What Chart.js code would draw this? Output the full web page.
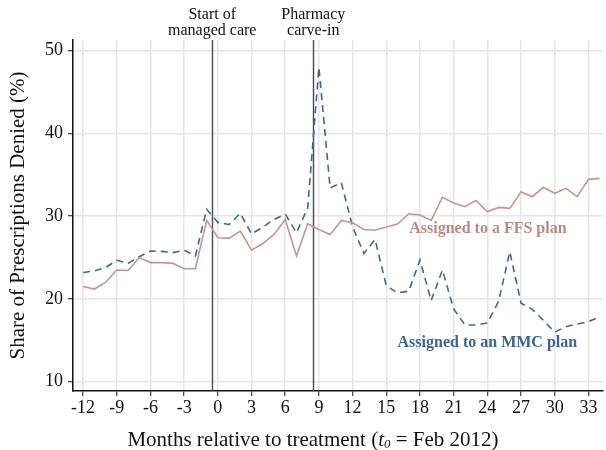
<!DOCTYPE html>
<html>
<head>
<meta charset="utf-8">
<script src="https://cdn.jsdelivr.net/npm/chart.js@4"></script>
<style>
  html, body { margin: 0; padding: 0; background: #fff; }
  #wrap { width: 606px; height: 450px; }
</style>
</head>
<body>
<div id="wrap"><canvas id="grafica" width="606" height="450"></canvas></div>
<script>
// meses relativos al tratamiento
const meses = [-12,-11,-10,-9,-8,-7,-6,-5,-4,-3,-2,-1,0,1,2,3,4,5,6,7,8,9,10,11,12,13,14,15,16,17,18,19,20,21,22,23,24,25,26,27,28,29,30,31,32,33,34];

// FFS (línea continua)
const ffs = [21.5,21.2,22.0,23.5,23.45,25.0,24.4,24.4,24.3,23.65,23.65,29.5,
  27.4,27.35,28.2,25.9,26.7,27.8,29.6,25.2,29.1,
  28.4,27.8,29.5,29.2,28.4,28.3,
  28.7,29.05,30.3,30.15,29.5,32.3,31.6,31.15,31.9,30.55,31.07,30.95,32.96,32.36,33.5,32.77,33.37,32.36,34.46,34.58];

// MMC (línea discontinua)
const mmc = [23.2,23.4,23.8,24.67,24.3,25.1,25.8,25.75,25.6,25.9,25.2,30.85,
  29.25,29.0,30.35,27.85,28.7,29.6,30.27,28.0,31.0,
  48.0,33.4,34.05,28.7,25.5,27.2,
  21.6,20.75,20.95,24.7,19.8,23.5,18.8,16.85,16.85,17.1,19.7,25.7,19.5,18.75,17.4,16.0,16.65,16.97,17.25,17.85];

const ticksX = [-12,-9,-6,-3,0,3,6,9,12,15,18,21,24,27,30,33];
const ticksY = [10,20,30,40,50];

// eventos (líneas verticales)
const eventosMes = [-0.5, 8.5];
const eventosTexto = [["Start of", "managed care"], ["Pharmacy", "carve-in"]];

// etiquetas de series
const etiquetas = [
  { texto: "Assigned to a FFS plan", mes: 24.05, valor: 28.45, color: "#b98a84" },
  { texto: "Assigned to an MMC plan", mes: 24.0, valor: 14.7, color: "#3f6586" }
];

const SERIF = "'Liberation Serif', 'DejaVu Serif', serif";

const extras = {
  id: 'extras',
  beforeDatasetsDraw(chart) {
    const { ctx, scales: { x }, chartArea } = chart;
    ctx.save();
    ctx.strokeStyle = '#4a4a4a';
    ctx.lineWidth = 1.4;
    eventosMes.forEach(m => {
      const px = Math.round(x.getPixelForValue(m)) + 0.5;
      ctx.beginPath();
      ctx.moveTo(px, chartArea.top);
      ctx.lineTo(px, chartArea.bottom);
      ctx.stroke();
    });
    ctx.restore();
  },
  afterDraw(chart) {
    const { ctx, scales: { x, y }, chartArea } = chart;
    ctx.save();
    ctx.fillStyle = '#111';
    ctx.font = `16px ${SERIF}`;
    ctx.textAlign = 'center';
    ctx.textBaseline = 'middle';
    eventosMes.forEach((m, i) => {
      const px = x.getPixelForValue(m);
      ctx.fillText(eventosTexto[i][0], px, 15);
      ctx.fillText(eventosTexto[i][1], px, 31);
    });

    ctx.font = `bold 16px ${SERIF}`;
    etiquetas.forEach(e => {
      ctx.fillStyle = e.color;
      ctx.fillText(e.texto, x.getPixelForValue(e.mes), y.getPixelForValue(e.valor));
    });

    // título eje Y
    ctx.fillStyle = '#111';
    ctx.font = `21px ${SERIF}`;
    ctx.save();
    ctx.translate(18, (chartArea.top + chartArea.bottom) / 2);
    ctx.rotate(-Math.PI / 2);
    ctx.fillText('Share of Prescriptions Denied (%)', 0, 0);
    ctx.restore();

    // título eje X con t₀ en cursiva
    const partes = [
      { t: 'Months relative to treatment (', f: `21px ${SERIF}`, dy: 0 },
      { t: 't', f: `italic 21px ${SERIF}`, dy: 0 },
      { t: '0', f: `italic 13px ${SERIF}`, dy: 5 },
      { t: ' = Feb 2012)', f: `21px ${SERIF}`, dy: 0 }
    ];
    let total = 0;
    partes.forEach(p => { ctx.font = p.f; total += ctx.measureText(p.t).width; });
    let cx = 313 - total / 2;
    ctx.textAlign = 'left';
    partes.forEach(p => {
      ctx.font = p.f;
      ctx.fillText(p.t, cx, 440 + p.dy);
      cx += ctx.measureText(p.t).width;
    });
    ctx.restore();
  }
};

new Chart(document.getElementById('grafica'), {
  type: 'line',
  data: {
    labels: meses,
    datasets: [
      {
        label: 'FFS',
        data: meses.map((m, i) => ({ x: m, y: ffs[i] })),
        borderColor: '#c4968f',
        borderWidth: 1.6,
        pointRadius: 0,
        tension: 0
      },
      {
        label: 'MMC',
        data: meses.map((m, i) => ({ x: m, y: mmc[i] })),
        borderColor: '#3f6889',
        borderWidth: 1.6,
        borderDash: [7, 5],
        pointRadius: 0,
        tension: 0
      }
    ]
  },
  options: {
    responsive: false,
    animation: false,
    layout: { padding: { left: 0, right: 3, top: 40, bottom: 0 } },
    plugins: { legend: { display: false }, tooltip: { enabled: false } },
    scales: {
      x: {
        type: 'linear',
        min: -12.9,
        max: 34.3,
        afterBuildTicks: s => { s.ticks = ticksX.map(v => ({ value: v })); },
        afterFit: s => { s.height = 59; },
        grid: { color: '#e6e6e6', lineWidth: 1.5, tickColor: '#111', tickLength: 5, tickWidth: 1 },
        border: { display: true, color: '#111', width: 1.5 },
        ticks: { color: '#111', font: { family: SERIF, size: 18 }, padding: 1, maxRotation: 0, autoSkip: false }
      },
      y: {
        min: 8.88,
        max: 51.3,
        afterBuildTicks: s => { s.ticks = ticksY.map(v => ({ value: v })); },
        afterFit: s => { s.width = 73; },
        grid: { color: '#e6e6e6', lineWidth: 1.5, tickColor: '#111', tickLength: 5, tickWidth: 1 },
        border: { display: true, color: '#111', width: 1.5 },
        ticks: { color: '#111', font: { family: SERIF, size: 18 }, padding: 5 }
      }
    }
  },
  plugins: [extras]
});
</script>
</body>
</html>
